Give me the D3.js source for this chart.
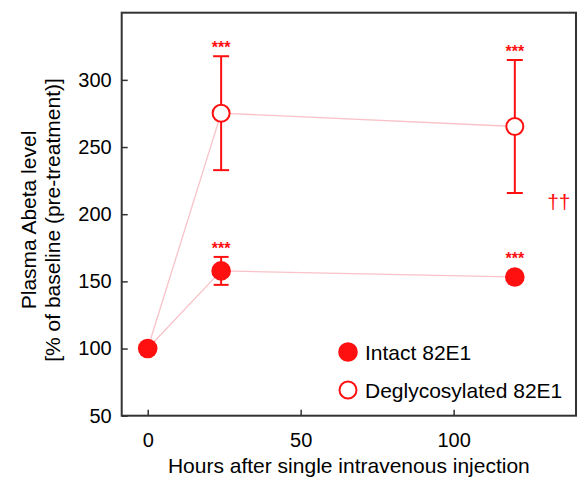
<!DOCTYPE html>
<html>
<head>
<meta charset="utf-8">
<script src="https://cdn.jsdelivr.net/npm/d3@7"></script>
<style>
  body { margin: 0; background: #fff; }
  text { font-family: "Liberation Sans", Arial, sans-serif; }
</style>
</head>
<body>
<div id="my_dataviz"></div>
<script>
// data
var hours = [0, 24, 120]
var intact = [100, 157.8, 153.2]
var intactErr = [0, 10.4, 0]
var intactSig = ["", "***", "***"]
var deglyco = [100, 275.2, 265.3]
var deglycoErr = [0, 42.4, 49.5]
var deglycoSig = ["", "***", "***"]
var xTicks = [0, 50, 100]
var yTicks = [50, 100, 150, 200, 250, 300]
var seriesNames = ["Intact 82E1", "Deglycosylated 82E1"]

var width = 580
var height = 478
var margin = {top: 12.7, right: 4, bottom: 62.3, left: 121.7}
var red = "#ff1010"
var pink = "#f9c2c8"

var svg = d3.select("#my_dataviz")
  .append("svg")
    .attr("width", width)
    .attr("height", height)

var x = d3.scaleLinear()
  .domain([-8.5, 140])
  .range([margin.left, width - margin.right])

var y = d3.scaleLinear()
  .domain([50, 350])
  .range([height - margin.bottom, margin.top])

// axes, ticks pointing inside the box
var yAxis = svg.append("g")
  .attr("transform", "translate(" + margin.left + ",0)")
  .call(d3.axisLeft(y).tickValues(yTicks).tickSize(-6).tickPadding(10))
var xAxis = svg.append("g")
  .attr("transform", "translate(0," + (height - margin.bottom) + ")")
  .call(d3.axisBottom(x).tickValues(xTicks).tickSize(-6).tickPadding(17))

svg.selectAll(".domain").remove()
svg.selectAll(".tick line").attr("stroke", "#333").attr("stroke-width", 1.5)
svg.selectAll(".tick text")
  .attr("fill", "#000")
  .style("font-size", "20px")
  .style("font-family", "'Liberation Sans', Arial, sans-serif")

// frame
svg.append("rect")
  .attr("x", margin.left)
  .attr("y", margin.top)
  .attr("width", width - margin.right - margin.left)
  .attr("height", height - margin.bottom - margin.top)
  .attr("fill", "none")
  .attr("stroke", "#333")
  .attr("stroke-width", 2)

// axis titles
svg.append("text")
  .attr("x", (margin.left + width - margin.right) / 2)
  .attr("y", 473)
  .attr("text-anchor", "middle")
  .style("font-size", "21px")
  .text("Hours after single intravenous injection")

var yLab = svg.append("text")
  .attr("transform", "translate(36,220)rotate(-90)")
  .attr("text-anchor", "middle")
  .style("font-size", "21px")
yLab.append("tspan").attr("x", 0).attr("y", 0).text("Plasma Abeta level")
yLab.append("tspan").attr("x", 0).attr("y", 24).text("[% of baseline (pre-treatment)]")

// connecting lines
var line = d3.line()
  .x(function(d, i) { return x(hours[i]) })
  .y(function(d) { return y(d) })

svg.append("path")
  .attr("d", line(deglyco))
  .attr("fill", "none")
  .attr("stroke", pink)
  .attr("stroke-width", 1.3)
svg.append("path")
  .attr("d", line(intact))
  .attr("fill", "none")
  .attr("stroke", pink)
  .attr("stroke-width", 1.3)

// error bars
function errorBars(vals, errs, cap) {
  var g = svg.append("g").attr("stroke", red).attr("stroke-width", 2)
  vals.forEach(function(v, i) {
    if (!errs[i]) return
    var cx = x(hours[i])
    g.append("line").attr("x1", cx).attr("x2", cx).attr("y1", y(v - errs[i])).attr("y2", y(v + errs[i]))
    g.append("line").attr("x1", cx - cap).attr("x2", cx + cap).attr("y1", y(v + errs[i])).attr("y2", y(v + errs[i]))
    g.append("line").attr("x1", cx - cap).attr("x2", cx + cap).attr("y1", y(v - errs[i])).attr("y2", y(v - errs[i]))
  })
}
errorBars(deglyco, deglycoErr, 8)
errorBars(intact, intactErr, 7.5)

// markers
svg.selectAll("openDots")
  .data(deglyco.slice(1))
  .enter()
  .append("circle")
    .attr("cx", function(d, i) { return x(hours[i + 1]) })
    .attr("cy", function(d) { return y(d) })
    .attr("r", 8.5)
    .attr("fill", "#fff")
    .attr("stroke", red)
    .attr("stroke-width", 2)

svg.selectAll("filledDots")
  .data(intact)
  .enter()
  .append("circle")
    .attr("cx", function(d, i) { return x(hours[i]) })
    .attr("cy", function(d) { return y(d) })
    .attr("r", 9.8)
    .attr("fill", red)

// significance stars
function stars(vals, errs, sig) {
  vals.forEach(function(v, i) {
    if (!sig[i]) return
    var top = errs[i] ? y(v + errs[i]) : y(v) - 10
    svg.append("text")
      .attr("x", x(hours[i]))
      .attr("y", top - 3)
      .attr("text-anchor", "middle")
      .attr("fill", red)
      .style("font-size", "16px")
      .style("font-weight", "bold")
      .text(sig[i])
  })
}
stars(deglyco, deglycoErr, deglycoSig)
stars(intact, intactErr, intactSig)

svg.append("text")
  .attr("x", x(134.4))
  .attr("y", y(204))
  .attr("text-anchor", "middle")
  .attr("fill", red)
  .style("font-size", "21px")
  .text("\u2020\u2020")

// legend
var legend = svg.append("g").attr("transform", "translate(348,352)")
legend.append("circle").attr("r", 9.8).attr("fill", red)
legend.append("circle").attr("cy", 38).attr("r", 8.5).attr("fill", "#fff").attr("stroke", red).attr("stroke-width", 2)
legend.selectAll("legText")
  .data(seriesNames)
  .enter()
  .append("text")
    .attr("x", 17)
    .attr("y", function(d, i) { return i * 38 + 8 })
    .style("font-size", "21px")
    .text(function(d) { return d })
</script>
</body>
</html>
